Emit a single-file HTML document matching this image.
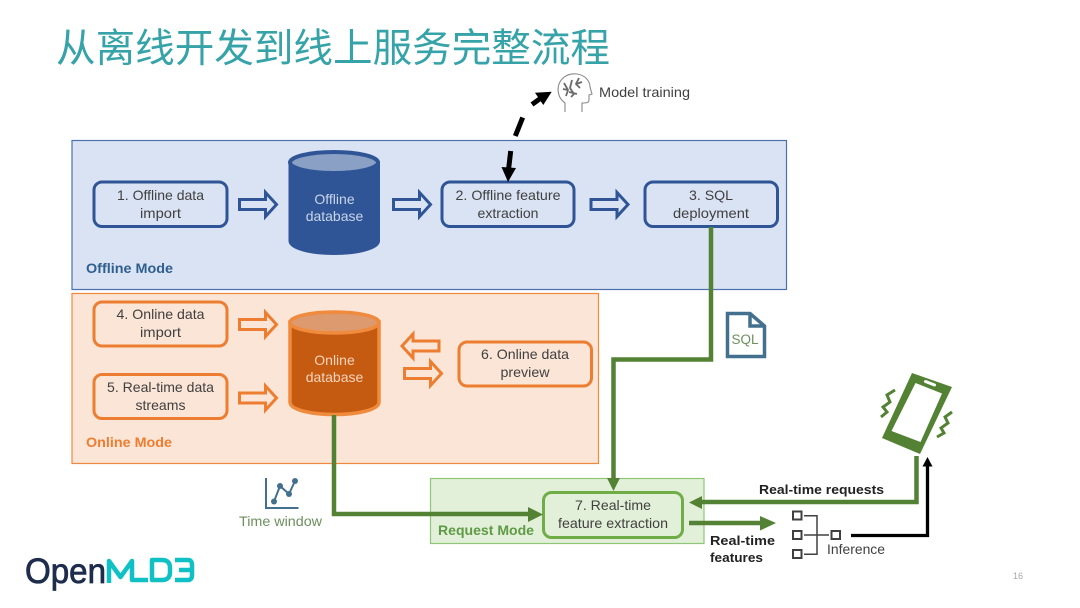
<!DOCTYPE html>
<html><head><meta charset="utf-8"><style>
html,body{margin:0;padding:0;background:#fff;width:1080px;height:608px;overflow:hidden}
svg{display:block}
text{font-family:"Liberation Sans","Noto Sans CJK SC",sans-serif}
.t{font-size:14px;fill:#404040;text-anchor:middle}
</style></head><body>
<svg width="1080" height="608" viewBox="0 0 1080 608" xmlns="http://www.w3.org/2000/svg">
<rect width="1080" height="608" fill="#fff"/>
<text x="56" y="62" font-size="39.5" fill="#36A3A9" textLength="554" lengthAdjust="spacingAndGlyphs" style="font-family:'WenQuanYi Zen Hei','Noto Sans CJK SC',sans-serif">从离线开发到线上服务完整流程</text>

<!-- panels -->
<rect x="72" y="140.500" width="714.500" height="149" fill="#DAE3F3" stroke="#4A70AE" stroke-width="1.200"/>
<rect x="72" y="293.500" width="526.500" height="170" fill="#FBE5D6" stroke="#F0883E" stroke-width="1.200"/>
<rect x="430.500" y="478.500" width="273.500" height="65" fill="#E2F0D9" stroke="#90C678" stroke-width="1.200"/>

<!-- boxes -->
<g stroke="#2F5597" fill="none" stroke-width="3">
<rect x="94" y="182" width="133" height="44.500" rx="8"/>
<rect x="442" y="182" width="132" height="44.500" rx="8"/>
<rect x="645" y="182" width="132.500" height="44.500" rx="8"/>
</g>
<g stroke="#ED7D31" fill="none" stroke-width="3">
<rect x="94" y="302" width="133" height="44" rx="8"/>
<rect x="94" y="374.500" width="133" height="44" rx="8"/>
<rect x="459" y="342" width="132.500" height="44" rx="8"/>
</g>
<rect x="543.500" y="492.500" width="139" height="45" rx="8" fill="none" stroke="#70AD47" stroke-width="3"/>

<!-- box text -->
<text class="t" x="160.500" y="200" textLength="87" lengthAdjust="spacingAndGlyphs">1. Offline data</text>
<text class="t" x="160.500" y="218" textLength="41" lengthAdjust="spacingAndGlyphs">import</text>
<text class="t" x="508" y="200" textLength="105" lengthAdjust="spacingAndGlyphs">2. Offline feature</text>
<text class="t" x="508" y="218" textLength="61" lengthAdjust="spacingAndGlyphs">extraction</text>
<text class="t" x="711" y="200" textLength="44" lengthAdjust="spacingAndGlyphs">3. SQL</text>
<text class="t" x="711" y="218" textLength="76" lengthAdjust="spacingAndGlyphs">deployment</text>
<text class="t" x="160.500" y="319" textLength="88" lengthAdjust="spacingAndGlyphs">4. Online data</text>
<text class="t" x="160.500" y="337" textLength="41" lengthAdjust="spacingAndGlyphs">import</text>
<text class="t" x="160.500" y="392" textLength="107" lengthAdjust="spacingAndGlyphs">5. Real-time data</text>
<text class="t" x="160.500" y="410" textLength="50" lengthAdjust="spacingAndGlyphs">streams</text>
<text class="t" x="525" y="359" textLength="88" lengthAdjust="spacingAndGlyphs">6. Online data</text>
<text class="t" x="525" y="377" textLength="49" lengthAdjust="spacingAndGlyphs">preview</text>
<text class="t" x="613" y="510" textLength="76" lengthAdjust="spacingAndGlyphs">7. Real-time</text>
<text class="t" x="613" y="528" textLength="110" lengthAdjust="spacingAndGlyphs">feature extraction</text>

<text x="86" y="273" font-size="14" font-weight="bold" fill="#2F5F8F" textLength="87" lengthAdjust="spacingAndGlyphs">Offline Mode</text>
<text x="86" y="447" font-size="14" font-weight="bold" fill="#ED7D31" textLength="86" lengthAdjust="spacingAndGlyphs">Online Mode</text>
<text x="438" y="535" font-size="14" font-weight="bold" fill="#5F9A45" textLength="96" lengthAdjust="spacingAndGlyphs">Request Mode</text>

<!-- cylinders -->
<path d="M288.500 161 V241 C288.500 250 311 255 334 255 C357 255 380 250 380 241 V161 Z" fill="#2F5597"/>
<ellipse cx="334" cy="162.500" rx="44" ry="10.500" fill="#8AA0C4" stroke="#2F5597" stroke-width="4"/>
<text x="334.500" y="204" font-size="14" fill="#C8D4E8" text-anchor="middle">Offline</text>
<text x="334.500" y="221" font-size="14" fill="#C8D4E8" text-anchor="middle">database</text>

<path d="M290 322 V402 C290 410 312 414.500 334.500 414.500 C357 414.500 379 410 379 402 V322 Z" fill="#C55A11" stroke="#F08A3C" stroke-width="3.500"/>
<ellipse cx="334.500" cy="322.500" rx="44.500" ry="10.500" fill="#DC9A6E" stroke="#F08A3C" stroke-width="3.500"/>
<text x="334.500" y="365" font-size="14" fill="#F6D5BD" text-anchor="middle">Online</text>
<text x="334.500" y="382" font-size="14" fill="#F6D5BD" text-anchor="middle">database</text>

<!-- hollow arrows -->
<defs>
<path id="ha" d="M0 7.500 H26 V0.500 L37 12.500 L26 24.500 V17.500 H0 Z"/>
</defs>
<g fill="none" stroke="#2F5597" stroke-width="3">
<use href="#ha" x="239.500" y="192"/>
<use href="#ha" x="393.500" y="192"/>
<use href="#ha" x="591" y="192"/>
</g>
<g fill="none" stroke="#ED7D31" stroke-width="3">
<use href="#ha" x="239.500" y="312"/>
<use href="#ha" x="239.500" y="385.500"/>
<use href="#ha" x="404.500" y="361"/>
<use href="#ha" transform="translate(439 333.500) scale(-1 1)"/>
</g>

<!-- green connectors -->
<g fill="none" stroke="#548235" stroke-width="4.500">
<path d="M711 227 V359.500 H613.500 V480"/>
<path d="M334 415 V514 H530"/>
<path d="M916.500 456 V502 H700"/>
<path d="M689 523 H762"/>
</g>
<g fill="#548235">
<path d="M607 478 H620 L613.500 491 Z"/>
<path d="M528 507 L543 514.500 L528 522 Z"/>
<path d="M689 502.500 L702 496 V509 Z"/>
<path d="M760 516 L776 523 L760 530.500 Z"/>
</g>

<!-- black dashed arrow -->
<g fill="none" stroke="#000" stroke-width="5">
<path d="M510.700 151 L508.500 170"/>
<path d="M522.700 117.500 L515.300 136"/>
<path d="M532 104.500 L541 98"/>
</g>
<path d="M501.500 167 L516 168 L508 182 Z" fill="#000"/>
<path d="M551.700 91.700 L535 92.700 L543.300 105 Z" fill="#000"/>

<!-- black inference arrow -->
<path d="M851 535.500 H927.500 V465" fill="none" stroke="#000" stroke-width="3.300"/>
<path d="M922.500 466.500 L927.500 457 L932.500 466.500 Z" fill="#000"/>

<!-- tree icon -->
<g fill="none" stroke="#404040" stroke-width="2">
<rect x="793" y="511.500" width="8.500" height="8"/>
<rect x="793" y="531" width="8.500" height="8"/>
<rect x="793" y="550" width="8.500" height="8"/>
<rect x="831.500" y="531" width="8.500" height="8"/>
</g>
<path d="M804 515.700 H817 V554.300 H804 M804 535 H829" fill="none" stroke="#404040" stroke-width="1.500"/>
<text x="827" y="554" font-size="13.500" fill="#404040" textLength="58" lengthAdjust="spacingAndGlyphs">Inference</text>

<text x="759" y="494" font-size="13" font-weight="bold" fill="#222" textLength="125" lengthAdjust="spacingAndGlyphs">Real-time requests</text>
<text x="710" y="545" font-size="13" font-weight="bold" fill="#222" textLength="65" lengthAdjust="spacingAndGlyphs">Real-time</text>
<text x="710" y="562" font-size="13" font-weight="bold" fill="#222" textLength="53" lengthAdjust="spacingAndGlyphs">features</text>

<!-- SQL doc -->
<path d="M727.500 313.500 H750 L764.500 326 V356.500 H727.500 Z" fill="#fff" stroke="#44708F" stroke-width="3.500"/>
<path d="M750 313.500 V326 H764.500" fill="none" stroke="#44708F" stroke-width="3.500"/>
<text x="745" y="344" font-size="13.500" fill="#6D8F5E" text-anchor="middle">SQL</text>

<!-- phone -->
<path d="M912 373 L952 387 L920 454 L882 438 Z" fill="#548235"/>
<path d="M915.500 383 L942 393.500 L920.500 442 L891.500 431 Z" fill="#fff"/>
<path d="M925.500 381.500 L934.500 385" stroke="#fff" stroke-width="3" stroke-linecap="round"/>
<g fill="none" stroke="#548235" stroke-width="3">
<path d="M895 390 L887 395 L890 402 L883 407 L887 412 L881 417"/>
<path d="M952 412 L945 417 L948 423 L941 428 L944 433 L937 437"/>
</g>

<!-- head icon -->
<path d="M565 112 V103 C558 98 557 90 559 84 C562 76 570 73 577 74 C585 75 590 81 590 87 L592 94 L589 95 V100 C589 103 586 103 582 103 V112" fill="none" stroke="#8A8A8A" stroke-width="1.100"/>
<path d="M564 83 L568 90 L566 96 M572 80 L570 88 L574 94 L571 97 M579 78 L576 84 L580 88 M569 92 L577 94 M563 89 L568 90 M576 84 L582 82" fill="none" stroke="#6B6B6B" stroke-width="1.800"/>
<text x="599" y="97" font-size="14" fill="#404040" textLength="91" lengthAdjust="spacingAndGlyphs">Model training</text>

<!-- time window icon -->
<path d="M266 478 V508 H298.500" fill="none" stroke="#44708F" stroke-width="2"/>
<path d="M274 501.500 L280 486 L289 494 L295 481" fill="none" stroke="#44708F" stroke-width="2"/>
<g fill="#44708F"><circle cx="274" cy="501.500" r="3"/><circle cx="280" cy="486" r="3"/><circle cx="289" cy="494" r="3"/><circle cx="295" cy="481" r="3"/></g>
<text x="239" y="526" font-size="14" fill="#6D8F5E" textLength="83" lengthAdjust="spacingAndGlyphs">Time window</text>

<!-- logo -->
<text x="25" y="583" font-size="35" fill="#1F2D4D" stroke="#1F2D4D" stroke-width="0.800" textLength="81" lengthAdjust="spacingAndGlyphs">Open</text>
<g fill="none" stroke="#0FC0C4" stroke-width="4.500" stroke-linejoin="round">
<path d="M109 583 V561 L120.500 577 L132 561 V580 H148"/>
<path d="M152 560 H162 Q170 560 170 568 V572 Q170 580 162 580 H152 Z"/>
<path d="M175 560 H188 Q192 560 192 565 V575 Q192 580 188 580 H175 M179 570 H192"/>
</g>

<text x="1018" y="579" font-size="9" fill="#A6A6A6" text-anchor="middle">16</text>
</svg>
</body></html>
